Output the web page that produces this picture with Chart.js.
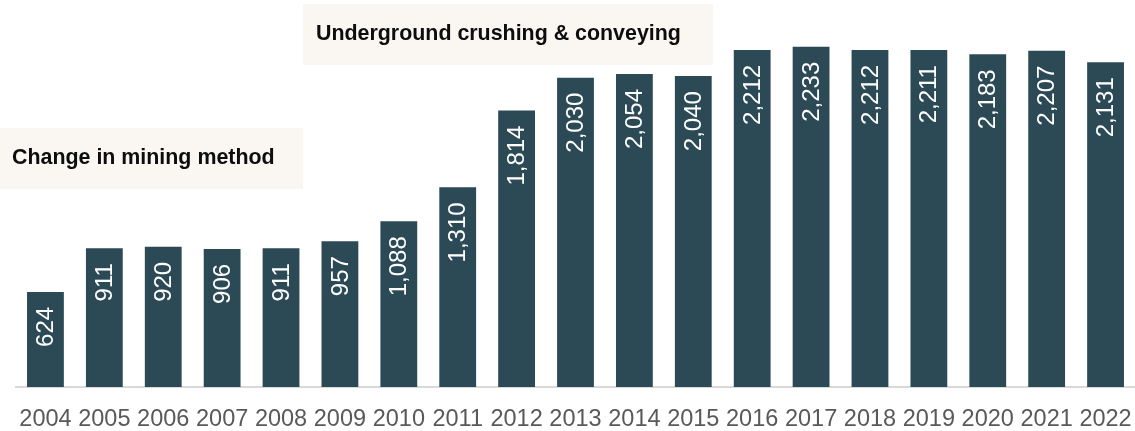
<!DOCTYPE html>
<html>
<head>
<meta charset="utf-8">
<script src="https://cdn.jsdelivr.net/npm/chart.js@4.4.1/dist/chart.umd.min.js"></script>
<style>
  html, body { margin: 0; padding: 0; background: #ffffff; }
  #wrap { width: 1135px; height: 431px; position: relative; }
</style>
</head>
<body>
<div id="wrap"><canvas id="chart" width="1135" height="431"></canvas></div>
<script>
// Annual throughput by year
const years = ['2004','2005','2006','2007','2008','2009','2010','2011','2012','2013','2014','2015','2016','2017','2018','2019','2020','2021','2022'];
const throughput = [624, 911, 920, 906, 911, 957, 1088, 1310, 1814, 2030, 2054, 2040, 2212, 2233, 2212, 2211, 2183, 2207, 2131];

// Milestone call-outs
const milestones = [
  { text: 'Change in mining method', box: [0, 128, 303, 61], textX: 12 },
  { text: 'Underground crushing & conveying', box: [303, 4, 410, 61], textX: 316 }
];

const BAR_COLOR = '#2c4956';
const CALLOUT_BG = '#faf6f1';

const fmt = v => v.toLocaleString('en-US');

// White rotated value labels inside each bar, anchored near the bar top
const barValueLabels = {
  id: 'barValueLabels',
  afterDatasetsDraw(chart) {
    const ctx = chart.ctx;
    const meta = chart.getDatasetMeta(0);
    ctx.save();
    ctx.fillStyle = '#ffffff';
    ctx.font = '24px "Liberation Sans", Arial, sans-serif';
    meta.data.forEach((bar, i) => {
      const v = chart.data.datasets[0].data[i];
      ctx.save();
      ctx.translate(bar.x, bar.y + 15);
      ctx.rotate(-Math.PI / 2);
      ctx.textAlign = 'right';
      ctx.textBaseline = 'middle';
      ctx.fillText(fmt(v), 0, 1);
      ctx.restore();
    });
    ctx.restore();
  }
};

// Shaded call-out boxes with bold captions
const callouts = {
  id: 'callouts',
  beforeDatasetsDraw(chart) {
    const ctx = chart.ctx;
    ctx.save();
    milestones.forEach(m => {
      const [x, y, w, h] = m.box;
      ctx.fillStyle = CALLOUT_BG;
      ctx.fillRect(x, y, w, h);
      ctx.fillStyle = '#0d0d0d';
      ctx.font = 'bold 21.4px "Liberation Sans", Arial, sans-serif';
      ctx.textAlign = 'left';
      ctx.textBaseline = 'middle';
      ctx.fillText(m.text, m.textX, y + h / 2);
    });
    ctx.restore();
  }
};

new Chart(document.getElementById('chart'), {
  type: 'bar',
  data: {
    labels: years,
    datasets: [{
      data: throughput,
      backgroundColor: BAR_COLOR,
      borderWidth: 0,
      categoryPercentage: 1,
      barPercentage: 0.625
    }]
  },
  options: {
    responsive: false,
    animation: false,
    layout: { padding: { left: 16, right: 0, top: 6, bottom: 0 } },
    plugins: { legend: { display: false }, tooltip: { enabled: false } },
    scales: {
      x: {
        grid: { display: false, drawTicks: false },
        border: { display: true, color: '#d9d9d9', width: 2 },
        ticks: {
          color: '#595959',
          font: { family: '"Liberation Sans", Arial, sans-serif', size: 23.5 },
          padding: 18,
          maxRotation: 0,
          autoSkip: false
        },
        afterFit(scale) {
          scale.height = 44;
          scale.paddingLeft = 0;
          scale.paddingRight = 0;
        }
      },
      y: {
        display: false,
        min: 0,
        max: 2500
      }
    }
  },
  plugins: [callouts, barValueLabels]
});
</script>
</body>
</html>
